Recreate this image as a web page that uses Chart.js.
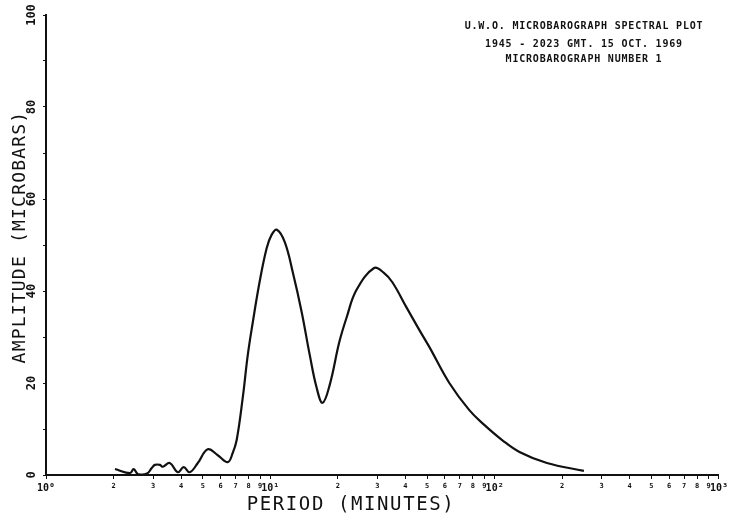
<!DOCTYPE html>
<html>
<head>
<meta charset="utf-8">
<title>Microbarograph spectral plot</title>
<script src="https://cdn.jsdelivr.net/npm/chart.js@4.4.1/dist/chart.umd.min.js"></script>
<style>
  html, body { margin: 0; padding: 0; background: #fff; }
  #wrap { width: 731px; height: 522px; }
</style>
</head>
<body>
<div id="wrap"><canvas id="spectrum" width="731" height="522"></canvas></div>
<script>
// spectral amplitude along the period axis
const periods = [2.03, 2.37, 2.46, 2.57, 2.82, 2.96, 3.06, 3.22, 3.32, 3.56,
  3.87, 4.11, 4.37, 4.75, 5.26, 5.83, 6.46, 6.8, 7.08, 7.53,
  7.93, 8.34, 8.96, 9.63, 10.13, 10.7, 11.6, 12.6, 13.8, 15.0, 16.1,
  17.1, 18.4, 20.3, 21.9, 24.2, 29.0, 32.0, 35.0, 40.4, 46.2, 51.2,
  62.8, 77.1, 89.9, 108, 129, 171, 250];
const amplitudes = [1.3, 0.4, 1.3, 0.2, 0.3, 1.5, 2.2, 2.2, 1.8, 2.6,
  0.6, 1.7, 0.6, 2.6, 5.6, 4.3, 2.8, 4.8, 7.6, 16.7,
  26, 33, 42, 49.3, 52.2, 53.3, 50.6, 44, 35.4, 26, 18.9,
  15.7, 19.6, 28.9, 34.3, 40.2, 45.0, 44.0, 41.9, 36.5, 31.5, 27.8,
  20, 14.1, 10.9, 7.6, 5.0, 2.6, 0.9];

// log axis: ticks at 1..9 in each decade, decades labelled 10^n
const decades = [1, 10, 100];
const decadeLabels = ['10⁰', '10¹', '10²', '10³'];
const minorDigits = [2, 3, 4, 5, 6, 7, 8, 9];
const xTickValues = [];
const xTickLabels = [];
decades.forEach((d, i) => {
  xTickValues.push(d);
  xTickLabels.push(decadeLabels[i]);
  minorDigits.forEach(m => {
    xTickValues.push(m * d);
    xTickLabels.push(String(m));
  });
});
xTickValues.push(1000);
xTickLabels.push(decadeLabels[3]);

const yTickLabels = ['0', '', '20', '', '40', '', '60', '', '80', '', '100'];

const noteLines = [
  'U.W.O. MICROBAROGRAPH SPECTRAL PLOT',
  '1945 - 2023 GMT. 15 OCT. 1969',
  'MICROBAROGRAPH NUMBER 1'
];
const xTitle = 'PERIOD (MINUTES)';
const yTitle = 'AMPLITUDE (MICROBARS)';

const mono = "'DejaVu Sans Mono', 'Liberation Mono', monospace";

// axis titles and the heading block in the upper right
const plotText = {
  id: 'plotText',
  afterDraw(chart) {
    const c = chart.ctx;
    c.save();
    c.fillStyle = '#111';
    c.textAlign = 'center';
    c.textBaseline = 'middle';

    c.font = 'bold 10px ' + mono;
    c.letterSpacing = '0.8px';
    [26, 44, 59].forEach((y, i) => c.fillText(noteLines[i], 584, y));

    c.font = '19px ' + mono;
    c.letterSpacing = '1.6px';
    c.fillText(xTitle, 351, 505);

    c.font = '18px ' + mono;
    c.letterSpacing = '1.2px';
    c.translate(20, 237);
    c.rotate(-Math.PI / 2);
    c.fillText(yTitle, 0, 0);
    c.restore();
  }
};

new Chart(document.getElementById('spectrum'), {
  type: 'line',
  data: {
    datasets: [{
      data: periods.map((p, i) => ({ x: p, y: amplitudes[i] })),
      borderColor: '#111',
      borderWidth: 2.2,
      pointRadius: 0,
      fill: false,
      tension: 0.4
    }]
  },
  options: {
    responsive: false,
    animation: false,
    devicePixelRatio: 1,
    layout: { padding: { top: 15, right: 11, bottom: 0, left: 0 } },
    plugins: {
      legend: { display: false },
      tooltip: { enabled: false }
    },
    scales: {
      x: {
        type: 'logarithmic',
        min: 1,
        max: 1000,
        afterBuildTicks: scale => {
          scale.ticks = xTickValues.map(v => ({ value: v }));
        },
        afterFit: scale => { scale.height = 47; },
        border: { color: '#111', width: 2 },
        grid: { drawOnChartArea: false, color: '#111', tickLength: 4 },
        ticks: {
          autoSkip: false,
          maxRotation: 0,
          minRotation: 0,
          padding: 3,
          color: '#111',
          font: ctx => xTickLabels[ctx.index] && xTickLabels[ctx.index].startsWith('10')
            ? { family: mono, size: 10, weight: 'bold' }
            : { family: mono, size: 7, weight: 'bold' },
          callback: (value, index) => xTickLabels[index]
        }
      },
      y: {
        min: 0,
        max: 100,
        afterFit: scale => { scale.width = 46; },
        border: { color: '#111', width: 2 },
        grid: { drawOnChartArea: false, color: '#111', tickLength: 3 },
        ticks: {
          stepSize: 10,
          minRotation: 90,
          maxRotation: 90,
          crossAlign: 'center',
          padding: 0,
          color: '#111',
          font: { family: mono, size: 12, weight: 'bold' },
          callback: (value, index) => yTickLabels[index]
        }
      }
    }
  },
  plugins: [plotText]
});
</script>
</body>
</html>
